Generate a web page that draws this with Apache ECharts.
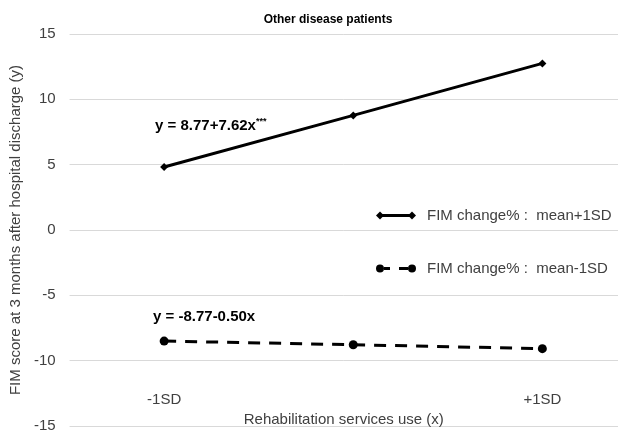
<!DOCTYPE html>
<html>
<head>
<meta charset="utf-8">
<script src="https://cdn.jsdelivr.net/npm/echarts@6/dist/echarts.min.js"></script>
<style>
  html, body { margin: 0; padding: 0; background: #fff; }
  #chart { width: 618px; height: 436px; }
</style>
</head>
<body>
<div id="chart"></div>
<script>
// Rehabilitation use levels (in SD units) and the FIM score at each level
const sdLevels = [-1, 0, 1];
const sdTickLabels = { '-1': '-1SD', '1': '+1SD' };
const fimHigh = [4.82, 8.77, 12.75];   // FIM change%: mean+1SD
const fimLow = [-8.5, -8.78, -9.08];   // FIM change%: mean-1SD
const seriesNames = ['FIM change% :  mean+1SD', 'FIM change% :  mean-1SD'];
const yTicks = { min: -15, max: 15, step: 5 };

const FONT = '"Liberation Sans", Arial, sans-serif';

// Legend glyphs: line with a marker at each end
const solidIcon = 'path://M0 4 L4 0 L8 4 L4 8 Z M4 2.5 L36 2.5 L36 5.5 L4 5.5 Z M32 4 L36 0 L40 4 L36 8 Z';
const dashedIcon = 'path://M0 4 A4 4 0 1 1 8 4 A4 4 0 1 1 0 4 Z M8 2.6 L14 2.6 L14 5.4 L8 5.4 Z M23 2.6 L32 2.6 L32 5.4 L23 5.4 Z M32 4 A4 4 0 1 1 40 4 A4 4 0 1 1 32 4 Z';

const chart = echarts.init(document.getElementById('chart'), null, { renderer: 'canvas' });

chart.setOption({
  animation: false,
  backgroundColor: '#fff',
  textStyle: { fontFamily: FONT },
  title: {
    text: 'Other disease patients',
    left: 323,
    textAlign: 'center',
    top: 9,
    textStyle: { fontSize: 12, fontWeight: 'bold', color: '#000', fontFamily: FONT }
  },
  grid: { left: 66, right: 0, top: 34, bottom: 10, containLabel: false },
  legend: {
    orient: 'vertical',
    left: 376,
    top: 208,
    padding: 0,
    itemWidth: 40,
    itemHeight: 8,
    itemGap: 38,
    textStyle: { fontSize: 15, color: '#404040', fontFamily: FONT, padding: [0, 0, 0, 6] },
    data: [
      { name: seriesNames[0], icon: solidIcon },
      { name: seriesNames[1], icon: dashedIcon }
    ]
  },
  xAxis: {
    type: 'value',
    min: -1.5,
    max: 1.4,
    interval: 0.5,
    offset: -34,
    axisLine: { show: false },
    axisTick: { show: false },
    splitLine: { show: false },
    axisLabel: {
      margin: 0,
      fontSize: 15,
      color: '#404040',
      fontFamily: FONT,
      showMinLabel: true,
      showMaxLabel: false,
      formatter: v => sdTickLabels[String(v)] || ''
    },
    name: 'Rehabilitation services use (x)',
    nameLocation: 'middle',
    nameGap: 15,
    nameTextStyle: { fontSize: 15, color: '#404040', fontFamily: FONT }
  },
  yAxis: {
    type: 'value',
    min: yTicks.min,
    max: yTicks.max,
    interval: yTicks.step,
    axisLine: { show: false },
    axisTick: { show: false },
    splitLine: { lineStyle: { color: '#d9d9d9', width: 1 } },
    axisLabel: { margin: 14, fontSize: 15, color: '#404040', fontFamily: FONT },
    name: 'FIM score at 3 months after hospital discharge (y)',
    nameLocation: 'middle',
    nameGap: 38,
    nameTextStyle: { fontSize: 15, color: '#404040', fontFamily: FONT }
  },
  graphic: [
    {
      type: 'text',
      left: 155,
      top: 117,
      style: {
        text: '{m|y = 8.77+7.62x}{s|***}',
        rich: {
          m: { fontSize: 15, fontWeight: 'bold', fill: '#000', fontFamily: FONT, verticalAlign: 'bottom' },
          s: { fontSize: 9, fontWeight: 'bold', fill: '#000', fontFamily: FONT, verticalAlign: 'bottom', padding: [0, 0, 7, 0] }
        }
      }
    },
    {
      type: 'text',
      left: 153,
      top: 309,
      style: {
        text: 'y = -8.77-0.50x',
        fontSize: 15,
        fontWeight: 'bold',
        fill: '#000',
        fontFamily: FONT
      }
    }
  ],
  series: [
    {
      name: seriesNames[0],
      type: 'line',
      data: sdLevels.map((x, i) => [x, fimHigh[i]]),
      symbol: 'diamond',
      symbolSize: 8,
      itemStyle: { color: '#000' },
      lineStyle: { color: '#000', width: 3 },
      z: 3
    },
    {
      name: seriesNames[1],
      type: 'line',
      data: sdLevels.map((x, i) => [x, fimLow[i]]),
      symbol: 'circle',
      symbolSize: 9,
      itemStyle: { color: '#000' },
      lineStyle: { color: '#000', width: 3, type: [12, 9] },
      z: 3
    }
  ]
});
</script>
</body>
</html>
